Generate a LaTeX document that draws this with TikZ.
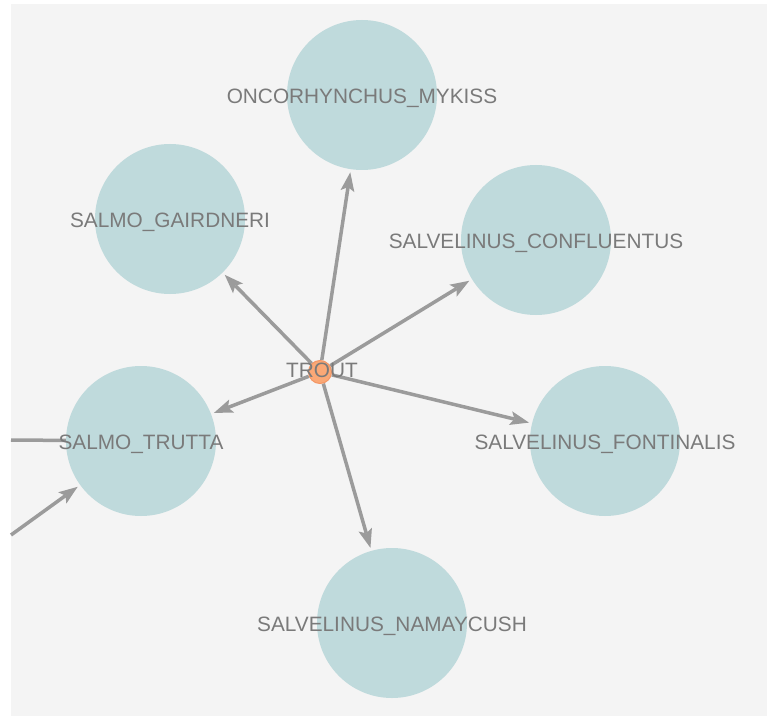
\documentclass[tikz,border=0pt]{standalone}
\usepackage{fontspec}
\setmainfont{Liberation Sans}
\usetikzlibrary{arrows.meta, backgrounds}

\definecolor{panelgray}{RGB}{244,244,244}
\definecolor{speciesfill}{RGB}{191,218,220}
\definecolor{hubfill}{RGB}{250,168,118}
\definecolor{hubdraw}{RGB}{244,150,100}
\definecolor{edgegray}{RGB}{155,155,155}
\definecolor{labelgray}{RGB}{122,122,122}

\begin{document}
\begin{tikzpicture}[x=1pt, y=-1pt,
        species/.style={circle, fill=speciesfill, minimum size=150pt, inner sep=0pt},
        hub/.style={circle, fill=hubfill, draw=hubdraw, line width=1pt, minimum size=23pt, inner sep=0pt},
        lbl/.style={text=labelgray, font=\fontsize{20.8}{24}\selectfont, inner sep=0pt, yshift=-3pt},
        link/.style={draw=edgegray, line width=3.5pt},
        arrowlink/.style={link, -{Stealth[length=19pt, width=14pt, inset=4pt, line width=0pt]}, shorten >=3pt}]

        \useasboundingbox (0,0) rectangle (767,719);

        % species around the hub
        \node[species, label={[lbl]center:ONCORHYNCHUS\_MYKISS}] (mykiss) at (362,95) {};
        \node[species, label={[lbl]center:SALMO\_GAIRDNERI}] (gairdneri) at (170,219) {};
        \node[species, label={[lbl]center:SALVELINUS\_CONFLUENTUS}] (confluentus) at (536,240) {};
        \node[species, label={[lbl]center:SALMO\_TRUTTA}] (trutta) at (141,441) {};
        \node[species, label={[lbl]center:SALVELINUS\_FONTINALIS}] (fontinalis) at (605,441) {};
        \node[species, label={[lbl]center:SALVELINUS\_NAMAYCUSH}] (namaycush) at (392,623) {};

        \node[hub, label={[lbl, yshift=5pt, xshift=2pt]center:TROUT}] (trout) at (320,372) {};

        % links leaving the panel on the left
        \coordinate (farA) at (11,440);
        \coordinate (farB) at (11,535);

        \begin{scope}[on background layer]
            \fill[panelgray] (11,4) rectangle (767,716);

            \draw[arrowlink] (trout) -- (mykiss);
            \draw[arrowlink] (trout) -- (gairdneri);
            \draw[arrowlink] (trout) -- (confluentus);
            \draw[arrowlink] (trout) -- (trutta);
            \draw[arrowlink] (trout) -- (fontinalis);
            \draw[arrowlink] (trout) -- (namaycush);

            \draw[link] (trutta.center) -- (farA);
            \draw[arrowlink] (farB) -- (trutta);
        \end{scope}

    \end{tikzpicture}
\end{document}
